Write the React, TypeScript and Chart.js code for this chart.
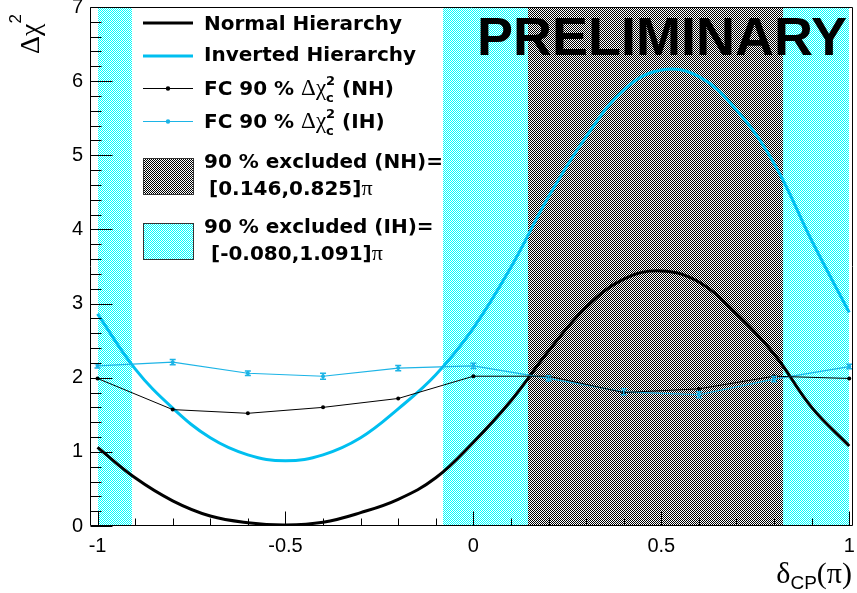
import { useEffect, useRef } from "react";
import { Chart, registerables } from "chart.js";

Chart.register(...registerables);

const W = 857;
const H = 593;

// delta_CP (in units of pi) grid for the continuous curves
const curveDelta = [-1, -0.9, -0.8, -0.7, -0.6, -0.5, -0.4, -0.3, -0.2, -0.1, 0, 0.1, 0.2, 0.3, 0.4, 0.5, 0.6, 0.7, 0.8, 0.9, 1];
const nhCurve = [1.06, 0.65, 0.34, 0.135, 0.045, 0.015, 0.05, 0.18, 0.36, 0.65, 1.13, 1.69, 2.36, 2.95, 3.33, 3.44, 3.29, 2.86, 2.32, 1.6, 1.08];
const ihCurve = [2.86, 2.12, 1.59, 1.19, 0.96, 0.88, 0.96, 1.19, 1.58, 2.04, 2.67, 3.49, 4.44, 5.25, 5.88, 6.15, 6.06, 5.61, 4.89, 3.85, 2.88];

// Feldman-Cousins critical values
const fcDelta = [-1, -0.8, -0.6, -0.4, -0.2, 0, 0.2, 0.4, 0.6, 0.8, 1];
const fcNH = [1.99, 1.57, 1.52, 1.6, 1.72, 2.02, 2.02, 1.8, 1.85, 2.02, 1.99];
const fcIH = [2.16, 2.21, 2.06, 2.02, 2.13, 2.16, 1.99, 1.81, 1.77, 1.98, 2.15];
const fcIHErr = [0.03, 0.035, 0.03, 0.04, 0.035, 0.035, 0.035, 0.04, 0.04, 0.035, 0.03];

// excluded regions
const nhExcluded = [0.146, 0.825];
const ihExcludedLow = [-1, -0.909];
const ihExcludedHigh = [-0.08, 1];

// ticks
const xTickValues = [-1, -0.5, 0, 0.5, 1];
const xTickLabels = ["-1", "-0.5", "0", "0.5", "1"];
const yTickValues = [0, 1, 2, 3, 4, 5, 6, 7];
const yTickLabels = ["0", "1", "2", "3", "4", "5", "6", "7"];

const legendNames = ["Normal Hierarchy", "Inverted Hierarchy", "(NH)", "(IH)"];
const legendExcl = ["90 % excluded (NH)=", "[0.146,0.825]", "90 % excluded (IH)=", "[-0.080,1.091]"];

const NH_COLOR = "#000000";
const IH_COLOR = "#00bff0";
const FC_IH_COLOR = "#1cb4e6";

const SANS = "'Liberation Sans', Arial, sans-serif";
const LEG = "'DejaVu Sans', sans-serif";
const SERIF = "'Liberation Serif', 'DejaVu Serif', serif";

function checker(ctx: CanvasRenderingContext2D, color: string) {
  const c = document.createElement("canvas");
  c.width = 2;
  c.height = 2;
  const g = c.getContext("2d")!;
  g.fillStyle = "#ffffff";
  g.fillRect(0, 0, 2, 2);
  g.fillStyle = color;
  g.fillRect(0, 0, 1, 1);
  g.fillRect(1, 1, 1, 1);
  return ctx.createPattern(c, "repeat")!;
}

type Run = { t: string; font: string; dy?: number; stack?: { t: string; font: string; dy: number }[] };

function drawRuns(ctx: CanvasRenderingContext2D, x: number, y: number, runs: Run[]) {
  let cx = x;
  ctx.textAlign = "left";
  ctx.textBaseline = "alphabetic";
  for (const r of runs) {
    if (r.stack) {
      let w = 0;
      for (const s of r.stack) {
        ctx.font = s.font;
        ctx.fillText(s.t, cx, y + s.dy);
        w = Math.max(w, ctx.measureText(s.t).width);
      }
      cx += w;
    } else {
      ctx.font = r.font;
      ctx.fillText(r.t, cx, y + (r.dy || 0));
      cx += ctx.measureText(r.t).width;
    }
  }
  return cx - x;
}

function measureRuns(ctx: CanvasRenderingContext2D, runs: Run[]) {
  let w = 0;
  for (const r of runs) {
    if (r.stack) {
      let m = 0;
      for (const s of r.stack) {
        ctx.font = s.font;
        m = Math.max(m, ctx.measureText(s.t).width);
      }
      w += m;
    } else {
      ctx.font = r.font;
      w += ctx.measureText(r.t).width;
    }
  }
  return w;
}

export default function App() {
  const ref = useRef<HTMLCanvasElement>(null);

  useEffect(() => {
    const canvas = ref.current!;
    const ctx0 = canvas.getContext("2d")!;
    const cyanPat = checker(ctx0, "#00ffff");
    const grayPat = checker(ctx0, "#000000");

    const bandsPlugin = {
      id: "bands",
      beforeDatasetsDraw(chart: any) {
        const { ctx, chartArea, scales } = chart;
        const xs = scales.x;
        const top = chartArea.top;
        const h = chartArea.bottom - chartArea.top;
        ctx.save();
        ctx.fillStyle = cyanPat;
        for (const b of [ihExcludedLow, ihExcludedHigh]) {
          const a = Math.round(xs.getPixelForValue(b[0]));
          const e = Math.round(xs.getPixelForValue(b[1]));
          ctx.fillRect(a, top, e - a, h);
        }
        ctx.fillStyle = grayPat;
        const a = Math.round(xs.getPixelForValue(nhExcluded[0]));
        const e = Math.round(xs.getPixelForValue(nhExcluded[1]));
        ctx.fillRect(a, top, e - a, h);
        ctx.restore();
      },
    };

    const decorPlugin = {
      id: "decor",
      afterDatasetsDraw(chart: any) {
        const { ctx, scales } = chart;
        const xs = scales.x;
        const ys = scales.y;
        ctx.save();
        // error bars for FC IH
        ctx.strokeStyle = FC_IH_COLOR;
        ctx.lineWidth = 1.5;
        fcDelta.forEach((d, i) => {
          const px = xs.getPixelForValue(d);
          const y1 = ys.getPixelForValue(fcIH[i] - fcIHErr[i]);
          const y2 = ys.getPixelForValue(fcIH[i] + fcIHErr[i]);
          ctx.beginPath();
          ctx.moveTo(px, y1);
          ctx.lineTo(px, y2);
          ctx.moveTo(px - 3, y1);
          ctx.lineTo(px + 3, y1);
          ctx.moveTo(px - 3, y2);
          ctx.lineTo(px + 3, y2);
          ctx.stroke();
        });
        ctx.restore();
      },
      afterDraw(chart: any) {
        const { ctx, chartArea, scales } = chart;
        const xs = scales.x;
        const ys = scales.y;
        const L = Math.round(chartArea.left) + 0.5;
        const R = Math.round(chartArea.right) - 0.5;
        const T = Math.round(chartArea.top) + 0.5;
        const B = Math.round(chartArea.bottom) - 0.5;
        ctx.save();
        // frame
        ctx.strokeStyle = "#000";
        ctx.lineWidth = 1;
        ctx.beginPath();
        ctx.moveTo(L, T);
        ctx.lineTo(R, T);
        ctx.lineTo(R, B);
        ctx.lineTo(L, B);
        ctx.closePath();
        ctx.stroke();
        // y ticks
        ctx.beginPath();
        for (let i = 0; i <= 35; i++) {
          const v = i / 5;
          const py = Math.round(ys.getPixelForValue(v)) + 0.5;
          const len = i % 5 === 0 ? 22 : 11;
          ctx.moveTo(L, py);
          ctx.lineTo(L + len, py);
        }
        // x ticks
        for (let i = -10; i <= 10; i++) {
          const v = i / 10;
          const px = Math.round(xs.getPixelForValue(v)) + 0.5;
          const len = i % 5 === 0 ? 14 : 7;
          ctx.moveTo(px, B);
          ctx.lineTo(px, B - len);
        }
        ctx.stroke();

        // PRELIMINARY
        ctx.fillStyle = "#000";
        ctx.font = `bold 54px ${SANS}`;
        ctx.textAlign = "left";
        ctx.textBaseline = "alphabetic";
        ctx.fillText("PRELIMINARY", 477, 55);

        // axis titles
        ctx.save();
        ctx.translate(39, 54);
        ctx.rotate(-Math.PI / 2);
        drawRuns(ctx, 0, 0, [
          { t: "Δχ", font: `28px ${SERIF}` },
          { t: "2", font: `17px ${SANS}`, dy: -18 },
        ]);
        ctx.restore();

        const xTitle: Run[] = [
          { t: "δ", font: `30px ${SERIF}` },
          { t: "CP", font: `19px ${SANS}`, dy: 6 },
          { t: "(π)", font: `30px ${SERIF}` },
        ];
        const wT = measureRuns(ctx, xTitle);
        drawRuns(ctx, 852 - wT, 583, xTitle);

        // legend
        const bold = `bold 20px ${LEG}`;
        const lx0 = 143;
        const lx1 = 193;
        const tx = 204;
        // 1
        ctx.strokeStyle = NH_COLOR;
        ctx.lineWidth = 3;
        ctx.beginPath();
        ctx.moveTo(lx0, 23);
        ctx.lineTo(lx1, 23);
        ctx.stroke();
        drawRuns(ctx, tx, 30, [{ t: legendNames[0], font: bold }]);
        // 2
        ctx.strokeStyle = IH_COLOR;
        ctx.beginPath();
        ctx.moveTo(lx0, 56);
        ctx.lineTo(lx1, 56);
        ctx.stroke();
        drawRuns(ctx, tx, 61, [{ t: legendNames[1], font: bold }]);
        // 3 & 4
        const fcRow = (y: number, color: string, tag: string) => {
          ctx.strokeStyle = color;
          ctx.fillStyle = color;
          ctx.lineWidth = 1;
          ctx.beginPath();
          ctx.moveTo(lx0, y + 0.5);
          ctx.lineTo(lx1, y + 0.5);
          ctx.stroke();
          ctx.beginPath();
          ctx.arc((lx0 + lx1) / 2, y + 0.5, 2.2, 0, Math.PI * 2);
          ctx.fill();
          ctx.fillStyle = "#000";
          drawRuns(ctx, tx, y + 7, [
            { t: "FC 90 % ", font: bold },
            { t: "Δχ", font: `23px ${SERIF}` },
            {
              t: "",
              font: bold,
              stack: [
                { t: "2", font: `bold 13px ${LEG}`, dy: -10 },
                { t: "c", font: `bold 13px ${LEG}`, dy: 7 },
              ],
            },
            { t: " " + tag, font: bold },
          ]);
        };
        fcRow(88, "#000", legendNames[2]);
        fcRow(121, FC_IH_COLOR, legendNames[3]);
        // 5 & 6
        const boxRow = (y: number, pat: CanvasPattern, l1: string, l2: string, x2: number) => {
          ctx.fillStyle = pat;
          ctx.fillRect(143, y, 51, 37);
          ctx.strokeStyle = "#333";
          ctx.lineWidth = 1;
          ctx.strokeRect(143.5, y + 0.5, 50, 36);
          ctx.fillStyle = "#000";
          drawRuns(ctx, tx, y + 10, [{ t: l1, font: bold }]);
          drawRuns(ctx, x2, y + 37, [
            { t: l2, font: bold },
            { t: "π", font: `22px ${SERIF}` },
          ]);
        };
        boxRow(158, grayPat, legendExcl[0], legendExcl[1], 209);
        boxRow(223, cyanPat, legendExcl[2], legendExcl[3], 211);
        ctx.restore();
      },
    };

    const chart = new Chart(canvas, {
      type: "line",
      data: {
        datasets: [
          {
            label: "FC NH",
            data: fcDelta.map((d, i) => ({ x: d, y: fcNH[i] })),
            borderColor: "#000",
            backgroundColor: "#000",
            borderWidth: 1,
            pointRadius: 2,
            pointBorderWidth: 0,
            tension: 0,
          },
          {
            label: "FC IH",
            data: fcDelta.map((d, i) => ({ x: d, y: fcIH[i] })),
            borderColor: FC_IH_COLOR,
            backgroundColor: FC_IH_COLOR,
            borderWidth: 1.2,
            pointRadius: 2,
            pointBorderWidth: 0,
            tension: 0,
          },
          {
            label: "Normal Hierarchy",
            data: curveDelta.map((d, i) => ({ x: d, y: nhCurve[i] })),
            borderColor: NH_COLOR,
            borderWidth: 3,
            pointRadius: 0,
            tension: 0.4,
          },
          {
            label: "Inverted Hierarchy",
            data: curveDelta.map((d, i) => ({ x: d, y: ihCurve[i] })),
            borderColor: IH_COLOR,
            borderWidth: 3,
            pointRadius: 0,
            tension: 0.4,
          },
        ],
      } as any,
      options: {
        animation: false,
        responsive: false,
        devicePixelRatio: 1,
        layout: { padding: { top: 7, right: 4, left: 0, bottom: 0 } },
        plugins: { legend: { display: false }, tooltip: { enabled: false } },
        scales: {
          x: {
            type: "linear",
            min: -1.02,
            max: 1.01,
            grid: { display: false, drawTicks: false },
            border: { display: false },
            afterBuildTicks: (s: any) => {
              s.ticks = xTickValues.map((v) => ({ value: v }));
            },
            afterFit: (s: any) => {
              s.height = 67;
              s.paddingLeft = 0;
              s.paddingRight = 0;
            },
            ticks: {
              autoSkip: false,
              maxRotation: 0,
              padding: 8,
              color: "#000",
              font: { family: SANS, size: 20 },
              callback: (_v: any, i: number) => xTickLabels[i],
            },
          },
          y: {
            type: "linear",
            min: 0,
            max: 7,
            grid: { display: false, drawTicks: false },
            border: { display: false },
            afterBuildTicks: (s: any) => {
              s.ticks = yTickValues.map((v) => ({ value: v }));
            },
            afterFit: (s: any) => {
              s.width = 90;
              s.paddingTop = 0;
              s.paddingBottom = 0;
            },
            ticks: {
              autoSkip: false,
              padding: 7,
              color: "#000",
              font: { family: SANS, size: 20 },
              callback: (_v: any, i: number) => yTickLabels[i],
            },
          },
        },
      } as any,
      plugins: [bandsPlugin, decorPlugin],
    });
    return () => chart.destroy();
  }, []);

  return (
    <div style={{ position: "absolute", left: 0, top: 0, width: W, height: H, background: "#fff" }}>
      <canvas ref={ref} width={W} height={H} style={{ width: W, height: H, display: "block" }} />
    </div>
  );
}
